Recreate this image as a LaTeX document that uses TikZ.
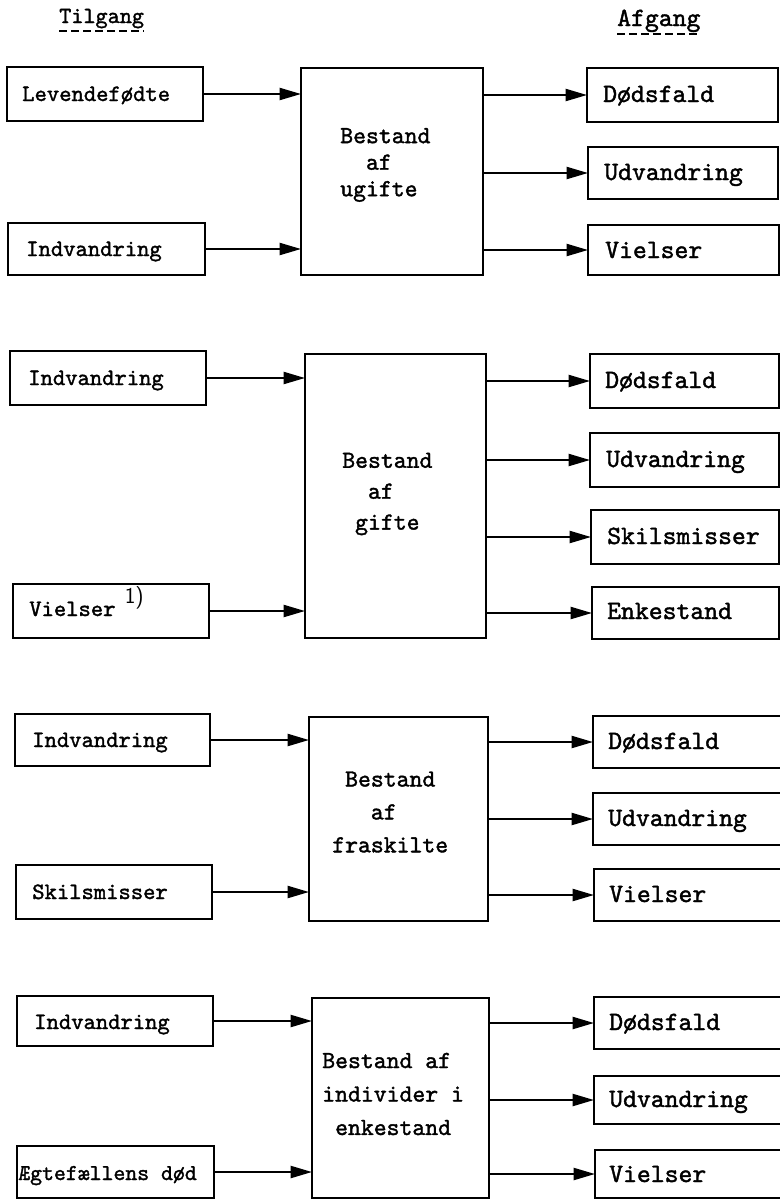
\documentclass[tikz,border=0pt]{standalone}
\usepackage{fontspec}
\newfontfamily\tw{lmmono10-regular.otf}[FakeBold=1.5]
\usetikzlibrary{arrows.meta,fit}
\tikzset{
  bx/.style={draw, line width=1.8pt, inner sep=0pt, outer sep=0pt},
  lt/.style={inner sep=0pt, anchor=base west, font=\tw\fontsize{17.6}{21}\selectfont},
  rt/.style={inner sep=0pt, anchor=base west, font=\tw\fontsize{19.8}{23}\selectfont},
  ct/.style={inner sep=0pt, anchor=west, align=left, font=\tw\fontsize{18.4}{#1}\selectfont},
  ct/.default=20pt,
  hd/.style={inner sep=0pt, anchor=base west, font=\tw\fontsize{#1}{21}\selectfont},
  arr/.style={line width=1.6pt, -{Triangle[length=16pt,width=9pt]}},
  uline/.style={line width=1.5pt, dash pattern=on 6pt off 3pt},
}
\begin{document}
\begin{tikzpicture}[x=0.75pt,y=-0.75pt]
\fill[white] (0,0) rectangle (780,1200);
\useasboundingbox (0,0) rectangle (780,1200);

% headers
\node[hd=17.3] (tilg) at (59,23) {Tilgang};
\draw[uline] ([yshift=-6pt]tilg.base west) -- ([yshift=-6pt]tilg.base east);
\node[hd=19.8] (afg) at (617,26) {Afgang};
\draw[uline] ([yshift=-6pt]afg.base west) -- ([yshift=-6pt]afg.base east);

% ---------- section 1: ugifte
\node[bx, fit={(7,67) (203,121)}] (a1) {};
\node[lt] (a1t) at (22,101) {Levendefødte};
\node[bx, fit={(8,223) (205,275)}] (a2) {};
\node[lt] (a2t) at (26,256) {Indvandring};
\node[bx, fit={(301,68) (483,275)}] (c1) {};
\node[ct=19.9pt] (c1t) at (340,165) {Bestand\\\ \ af\\ugifte};
\node[bx, fit={(587,68) (778,122)}] (b1) {};
\node[rt] (b1t) at (603,102) {Dødsfald};
\node[bx, fit={(588,147) (778,199)}] (b2) {};
\node[rt] (b2t) at (604,180) {Udvandring};
\node[bx, fit={(588,225) (779,275)}] (b3) {};
\node[rt] (b3t) at (605,258) {Vielser};
\draw[arr] (a1.east) -- (a1.east -| c1.west);
\draw[arr] (a2.east) -- (a2.east -| c1.west);
\draw[arr] (b1.west -| c1.east) -- (b1.west);
\draw[arr] (b2.west -| c1.east) -- (b2.west);
\draw[arr] (b3.west -| c1.east) -- (b3.west);

% ---------- section 2: gifte
\node[bx, fit={(10,351) (206,405)}] (d1) {};
\node[lt] (d1t) at (28,385) {Indvandring};
\node[bx, fit={(13,584) (209,638)}] (d2) {};
\node[lt] (d2t) at (29,616) {Vielser\hspace{7pt}\raisebox{9.5pt}{\fontsize{17}{19}\selectfont\sffamily 1)}};
\node[bx, fit={(305,354) (486,638)}] (c2) {};
\node[ct=23.2pt] (c2t) at (342,494) {Bestand\\\ \ af\\\ gifte};
\node[bx, fit={(590,354) (779,408)}] (e1) {};
\node[rt] (e1t) at (605,388) {Dødsfald};
\node[bx, fit={(590,433) (779,487)}] (e2) {};
\node[rt] (e2t) at (606,467) {Udvandring};
\node[bx, fit={(591,510) (779,564)}] (e3) {};
\node[rt] (e3t) at (607,544) {Skilsmisser};
\node[bx, fit={(592,587) (779,639)}] (e4) {};
\node[rt] (e4t) at (607,619) {Enkestand};
\draw[arr] (d1.east) -- (d1.east -| c2.west);
\draw[arr] (d2.east) -- (d2.east -| c2.west);
\draw[arr] (e1.west -| c2.east) -- (e1.west);
\draw[arr] (e2.west -| c2.east) -- (e2.west);
\draw[arr] (e3.west -| c2.east) -- (e3.west);
\draw[arr] (e4.west -| c2.east) -- (e4.west);

% ---------- section 3: fraskilte
\node[bx, fit={(15,714) (210,766)}] (f1) {};
\node[lt] (f1t) at (32,747) {Indvandring};
\node[bx, fit={(16,865) (212,919)}] (f2) {};
\node[lt] (f2t) at (32,899) {Skilsmisser};
\node[bx, fit={(309,717) (488,921)}] (c3) {};
\node[ct=24.7pt] (c3t) at (332,812) {\ Bestand\\\ \ \ af\\fraskilte};
\node[bx, fit={(593,716) (783,768)}] (g1) {};
\node[rt] (g1t) at (608,749) {Dødsfald};
\node[bx, fit={(593,793) (783,845)}] (g2) {};
\node[rt] (g2t) at (608,826) {Udvandring};
\node[bx, fit={(594,869) (783,921)}] (g3) {};
\node[rt] (g3t) at (609,902) {Vielser};
\draw[arr] (f1.east) -- (f1.east -| c3.west);
\draw[arr] (f2.east) -- (f2.east -| c3.west);
\draw[arr] (g1.west -| c3.east) -- (g1.west);
\draw[arr] (g2.west -| c3.east) -- (g2.west);
\draw[arr] (g3.west -| c3.east) -- (g3.west);

% ---------- section 4: enkestand
\node[bx, fit={(17,996) (213,1046)}] (h1) {};
\node[lt] (h1t) at (34,1029) {Indvandring};
\node[bx, fit={(17,1146) (214,1198)}] (h2) {};
\node[lt, font=\tw\fontsize{17}{20}\selectfont] (h2t) at (18,1180) {Ægtefællens død};
\node[bx, fit={(312,998) (489,1198)}] (c4) {};
\node[ct=25.1pt] (c4t) at (322,1094) {Bestand af\\individer i\\\ enkestand};
\node[bx, fit={(594,997) (783,1049)}] (k1) {};
\node[rt] (k1t) at (609,1030) {Dødsfald};
\node[bx, fit={(594,1076) (783,1124)}] (k2) {};
\node[rt] (k2t) at (609,1107) {Udvandring};
\node[bx, fit={(595,1150) (783,1198)}] (k3) {};
\node[rt] (k3t) at (609,1182) {Vielser};
\draw[arr] (h1.east) -- (h1.east -| c4.west);
\draw[arr] (h2.east) -- (h2.east -| c4.west);
\draw[arr] (k1.west -| c4.east) -- (k1.west);
\draw[arr] (k2.west -| c4.east) -- (k2.west);
\draw[arr] (k3.west -| c4.east) -- (k3.west);
\end{tikzpicture}
\end{document}
